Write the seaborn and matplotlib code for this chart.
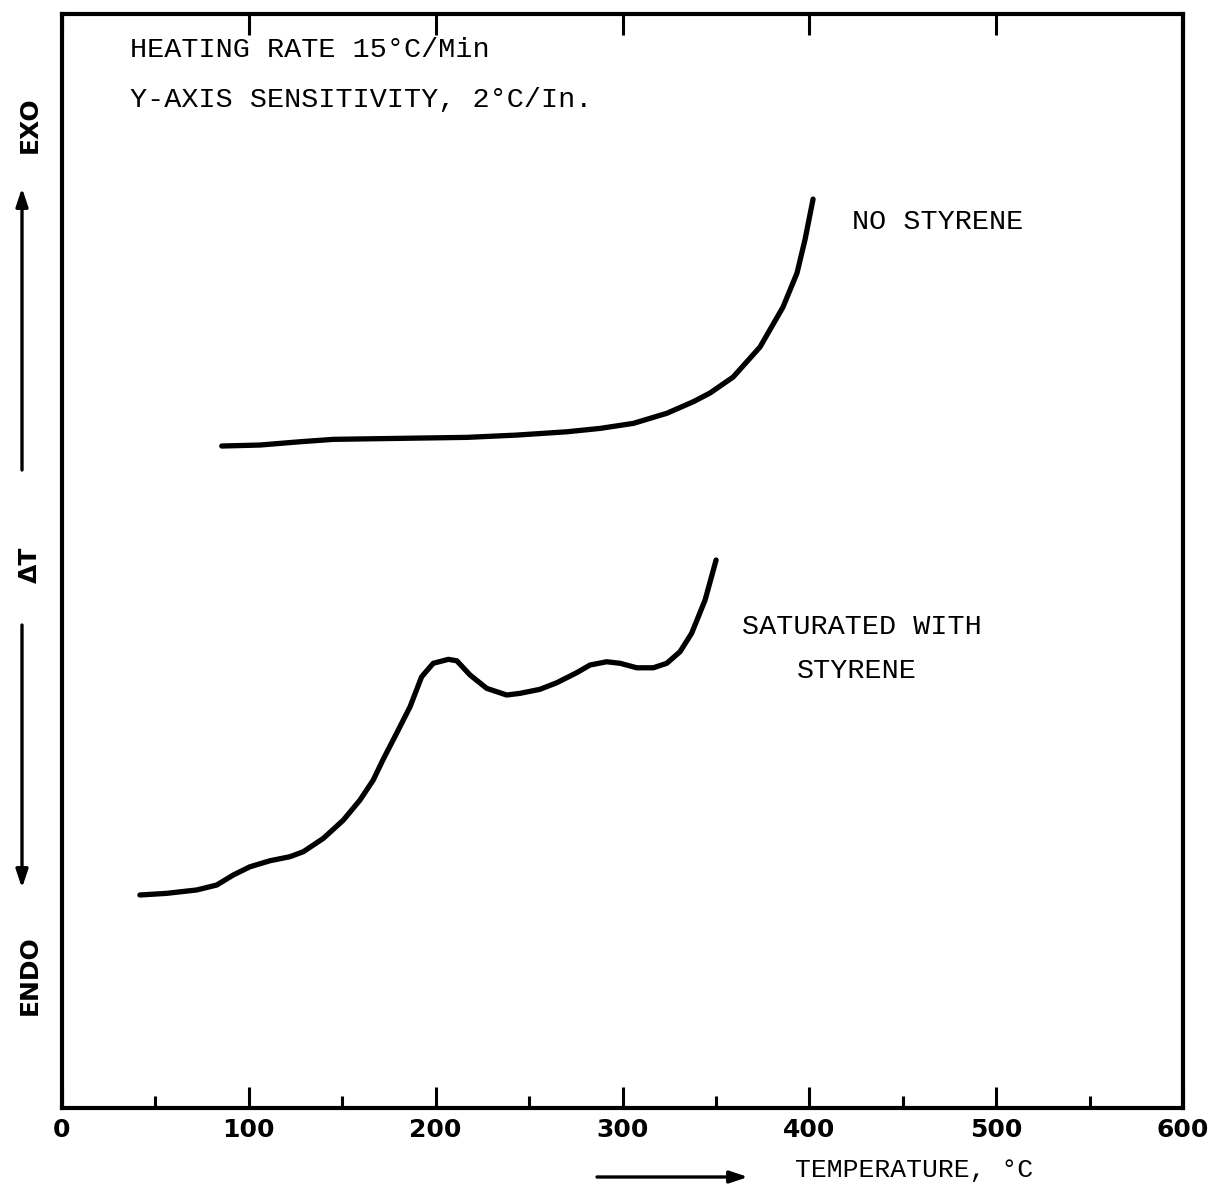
import numpy as np
import pandas as pd
import matplotlib
matplotlib.use("Agg")
import matplotlib.pyplot as plt
import seaborn as sns

# DTA traces: temperature (deg C) vs. relative delta-T (arbitrary chart units)
no_styrene_temp = [85.5, 106.0, 127.4, 145.2, 180.9, 216.6, 243.4, 270.1, 288.0, 305.8,
                   323.7, 337.9, 346.8, 359.2, 373.6, 385.9, 393.4, 397.7, 402.0]
no_styrene_dt = [60.51, 60.60, 60.90, 61.12, 61.21, 61.30, 61.51, 61.81, 62.12, 62.58,
                 63.50, 64.56, 65.35, 66.81, 69.56, 73.21, 76.32, 79.38, 83.08]

saturated_temp = [41.7, 56.0, 72.1, 82.8, 91.7, 100.6, 111.3, 122.0, 129.2, 139.9,
                  150.6, 159.5, 166.6, 172.0, 179.1, 186.3, 192.5, 198.7, 206.8, 211.3,
                  218.4, 227.3, 238.0, 245.1, 255.8, 264.8, 275.5, 282.6, 291.5, 298.7,
                  307.6, 316.5, 323.7, 330.8, 337.0, 344.2, 350.1]
saturated_dt = [19.47, 19.62, 19.93, 20.38, 21.30, 22.05, 22.60, 22.97, 23.43, 24.65,
                26.32, 28.15, 29.98, 31.90, 34.25, 36.68, 39.42, 40.65, 41.01, 40.88,
                39.58, 38.36, 37.75, 37.90, 38.27, 38.87, 39.79, 40.49, 40.79, 40.65,
                40.24, 40.24, 40.65, 41.71, 43.39, 46.43, 50.09]

x_major_ticks = [0, 100, 200, 300, 400, 500, 600]
x_tick_labels = ["0", "100", "200", "300", "400", "500", "600"]
x_minor_ticks = [50, 150, 250, 350, 450, 550]

sns.set_theme(style="white")
mono = ["Liberation Mono", "DejaVu Sans Mono"]
plt.rcParams["font.family"] = ["DejaVu Sans"]
plt.rcParams["text.color"] = "black"
plt.rcParams["xtick.color"] = "black"
plt.rcParams["xtick.labelcolor"] = "black"

W, H = 1217, 1189
fig = plt.figure(figsize=(W / 100, H / 100), dpi=100)
ax = fig.add_axes([62 / W, 1 - 1108 / H, (1183 - 62) / W, (1108 - 14) / H])

df_top = pd.DataFrame({"temp": no_styrene_temp, "dt": no_styrene_dt})
df_bot = pd.DataFrame({"temp": saturated_temp, "dt": saturated_dt})
line_kw = dict(color="black", linewidth=3.8, sort=False, estimator=None,
               solid_joinstyle="round", solid_capstyle="round")
sns.lineplot(data=df_top, x="temp", y="dt", ax=ax, **line_kw)
sns.lineplot(data=df_bot, x="temp", y="dt", ax=ax, **line_kw)

ax.set_xlim(0, 600)
ax.set_ylim(0, 100)
ax.set_xlabel("")
ax.set_ylabel("")
ax.set_yticks([])
for s in ax.spines.values():
    s.set_color("black")
    s.set_linewidth(3.0)

ax.set_xticks(x_major_ticks)
ax.set_xticklabels(x_tick_labels, fontsize=18, fontweight="bold", color="black")
ax.set_xticks(x_minor_ticks, minor=True)
ax.tick_params(axis="x", which="major", direction="in", length=15, width=2.2,
               color="black", labelcolor="black", top=True, bottom=True,
               labeltop=False, pad=7)
ax.tick_params(axis="x", which="minor", direction="in", length=9, width=2.2,
               color="black", top=False, bottom=True)

# Annotations inside the plot
txt_kw = dict(family=mono, fontsize=20.5, color="black", va="center", ha="left")
ax.text(36.4, 96.7, "HEATING RATE 15°C/Min", **txt_kw)
ax.text(36.4, 92.1, "Y-AXIS SENSITIVITY, 2°C/In.", **txt_kw)
ax.text(422.9, 81.0, "NO STYRENE", **txt_kw)
ax.text(364.0, 44.0, "SATURATED WITH", **txt_kw)
ax.text(393.5, 39.9, "STYRENE", **txt_kw)


# Axis captions outside the frame, placed in figure pixels (top-left origin)
def fx(px):
    return px / W


def fy(py):
    return 1 - py / H


fig.text(fx(795), fy(1170), "TEMPERATURE, °C", family=mono, fontsize=19,
         color="black", ha="left", va="center")
arrow_kw = dict(arrowstyle="-|>,head_length=0.9,head_width=0.3", color="black",
                lw=2.4, shrinkA=0, shrinkB=0)
ax.annotate("", xy=(fx(748), fy(1177)), xytext=(fx(597), fy(1177)),
            xycoords="figure fraction", textcoords="figure fraction",
            arrowprops=arrow_kw, annotation_clip=False)

side_kw = dict(fontsize=18, fontweight="heavy", rotation=90, color="black",
               ha="center", va="center")
fig.text(fx(30), fy(125), "EXO", **side_kw)
fig.text(fx(30), fy(565), "ΔT", **side_kw)
fig.text(fx(30), fy(975), "ENDO", **side_kw)
ax.annotate("", xy=(fx(22), fy(188)), xytext=(fx(22), fy(470)),
            xycoords="figure fraction", textcoords="figure fraction",
            arrowprops=arrow_kw, annotation_clip=False)
ax.annotate("", xy=(fx(22), fy(888)), xytext=(fx(22), fy(625)),
            xycoords="figure fraction", textcoords="figure fraction",
            arrowprops=arrow_kw, annotation_clip=False)

fig.savefig("out.png", dpi=100, facecolor="white")
